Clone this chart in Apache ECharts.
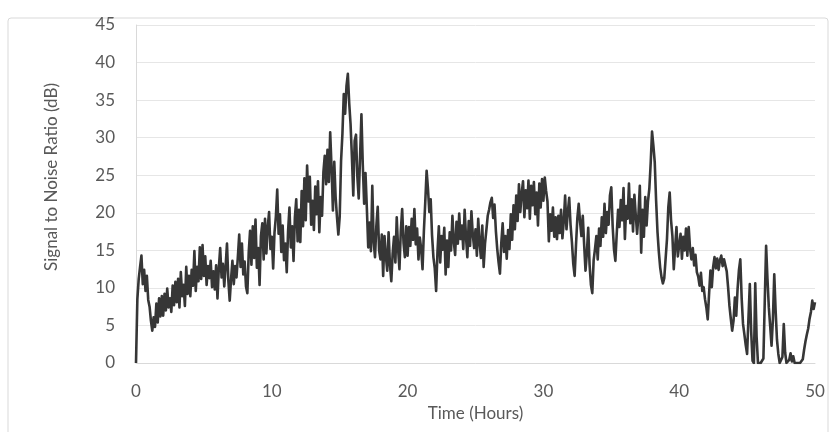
<!DOCTYPE html>
<html>
<head>
<meta charset="utf-8">
<script src="https://cdn.jsdelivr.net/npm/echarts@6/dist/echarts.min.js"></script>
<style>
  html, body { margin: 0; padding: 0; background: #ffffff; }
  #chart { width: 835px; height: 432px; }
</style>
</head>
<body>
<div id="chart"></div>
<script>
// SNR readings, one every 0.1 h, grouped by ten-hour block
const SAMPLE_STEP_HOURS = 0.1;

const snrHours0to10 = [
  0, 8.5, 11.2, 12.8, 14.3, 10.5, 12.4, 9.6, 11.6, 8.4,
  7.5, 5.6, 4.3, 6.1, 4.8, 7.9, 5.4, 8.6, 6.2, 8.9,
  6.3, 9.2, 7.0, 9.9, 7.4, 8.6, 6.8, 10.3, 7.7, 10.8,
  8.1, 11.2, 7.4, 12.1, 8.9, 10.4, 7.6, 12.8, 9.2, 11.6,
  8.9, 12.4, 10.3, 14.9, 9.6, 12.8, 10.9, 15.4, 11.2, 15.7,
  11.6, 14.2, 10.4, 12.9, 11.3, 13.6, 10.1, 12.2, 9.8, 13.0,
  8.6, 12.7, 15.3, 11.4, 13.2, 10.2, 12.9, 15.9, 11.0, 8.3,
  11.2, 13.6, 10.5, 12.9, 11.4, 14.1, 17.1, 12.8, 15.9, 11.8,
  13.5, 10.2, 9.3, 14.7, 17.6, 13.1, 18.2, 14.0, 19.1, 12.7,
  15.3, 10.4, 16.9, 18.6, 13.8, 19.2, 14.6, 18.1, 20.1, 15.2
];

const snrHours10to20 = [
  16.8, 12.6, 17.4, 19.5, 23.1, 17.2, 19.8, 14.8, 18.3, 13.7,
  15.9, 12.1, 17.6, 20.7, 15.4, 18.2, 13.6, 19.4, 21.8, 16.2,
  20.4, 16.1, 22.9, 18.2, 24.6, 19.0, 26.3, 21.5, 24.8, 18.4,
  21.6, 17.7, 23.5, 19.8, 24.2, 17.4, 22.1, 19.6, 25.4, 27.6,
  23.8, 28.4, 24.1, 30.7, 26.0, 20.3, 26.8, 22.1, 19.4, 17.1,
  19.5, 26.9, 30.5, 35.8, 33.2, 36.9, 38.5, 34.6, 31.8, 27.4,
  22.3, 29.6, 30.4, 24.8, 21.9, 27.5, 33.1, 26.4, 21.2, 25.3,
  20.6, 15.4, 18.7, 14.9, 23.6, 16.2, 14.1, 18.3, 20.8, 15.0,
  13.8, 17.1, 11.6, 16.9, 14.2, 12.3, 17.4, 13.1, 10.9, 14.6,
  16.8, 13.4, 19.4, 15.2, 12.5, 17.6, 20.5, 16.0, 14.1, 18.2
];

const snrHours20to30 = [
  14.3, 18.1, 15.6, 19.2, 16.4, 20.5, 15.8, 17.9, 13.8, 16.7,
  15.2, 12.5, 17.6, 21.4, 25.6, 23.2, 20.1, 21.8, 17.0, 14.1,
  12.6, 9.6, 14.8, 18.2, 13.4, 16.9, 15.1, 18.0, 11.8, 16.3,
  12.8, 17.4, 15.0, 19.6, 16.2, 14.4, 18.8, 15.9, 19.9, 16.5,
  18.3, 15.2, 20.4, 16.8, 14.1, 18.9, 15.6, 20.2, 17.1, 15.3,
  17.8, 14.3, 19.2, 16.0, 14.0, 18.3, 12.8, 15.9, 17.7, 19.6,
  20.4, 21.4, 22.0, 19.3, 21.1, 17.6, 15.2, 13.4, 11.9, 16.0,
  18.6, 14.8, 16.9, 13.9, 17.7, 15.2, 19.8, 16.4, 21.0, 17.8,
  22.3, 18.9, 23.8, 20.1, 22.6, 24.2, 19.4, 23.0, 20.6, 24.3,
  19.2, 23.6, 21.0, 24.1, 19.8, 22.7, 18.3, 23.9, 20.7, 24.5
];

const snrHours30to40 = [
  21.6, 24.7, 22.9, 21.5, 16.2, 19.8, 17.6, 20.7, 16.8, 19.4,
  16.5, 19.6, 17.3, 20.4, 16.6, 18.9, 22.3, 17.8, 20.1, 22.0,
  18.4, 16.1, 13.2, 11.6, 15.7, 19.3, 21.2, 18.8, 16.9, 19.6,
  15.8, 12.3, 14.6, 18.0, 13.1, 10.4, 9.3, 13.7, 15.2, 16.9,
  13.8, 17.9, 15.6, 19.4, 16.8, 21.2, 17.3, 20.1, 18.4, 22.3,
  23.4, 18.2, 15.1, 13.6, 17.2, 20.4, 18.1, 21.7, 19.0, 23.3,
  16.5, 20.9, 19.2, 23.9, 18.6, 21.8, 17.5, 22.4, 19.7, 17.2,
  19.8, 23.6, 14.7, 20.4, 16.8, 22.1, 18.3, 21.5, 23.2, 26.6,
  30.8, 28.9, 26.7, 21.6, 17.5, 14.8, 12.7, 11.4, 10.6, 11.3,
  13.9, 16.5, 20.8, 22.7, 19.0, 16.9, 12.5, 15.4, 18.1, 14.2
];

const snrHours40to50 = [
  14.1, 17.2, 13.9, 16.8, 15.0, 17.9, 14.3, 18.1, 15.2, 13.8,
  15.3, 13.0, 14.4, 12.1, 11.5, 10.3, 12.0, 9.6, 10.1, 8.5,
  7.4, 5.8, 9.2, 12.3, 10.1, 12.8, 14.1, 12.6, 13.9, 12.4,
  13.7, 14.3, 12.9, 13.8, 14.0, 12.2, 10.1, 7.6, 5.9, 4.3,
  5.6, 8.7, 6.3, 9.9, 12.4, 13.8, 8.6, 5.2, 3.8, 2.4,
  1.2, 6.0, 10.5, 4.2, 0.3, 0, 10.6, 3.5, 0, 0,
  0, 0, 0.6, 8.2, 15.6, 11.2, 7.4, 4.9, 2.3, 5.8,
  11.8, 7.0, 3.1, 1.2, 0, 0, 0.8, 5.2, 1.4, 0,
  0, 0.4, 1.3, 0.2, 0.9, 0, 0, 0, 0, 0,
  0, 0.5, 1.8, 2.9, 3.8, 4.6, 5.9, 6.8, 8.3, 7.2,
  8.1
];

// Axis ranges and tick spacing
const timeTicks = [0, 10, 20, 30, 40, 50];
const snrTicks = [0, 5, 10, 15, 20, 25, 30, 35, 40, 45];

const snrValues = [].concat(snrHours0to10, snrHours10to20, snrHours20to30, snrHours30to40, snrHours40to50);
const seriesData = snrValues.map((v, i) => [+(i * SAMPLE_STEP_HOURS).toFixed(1), v]);

const FONT = 'Lato, "Open Sans", sans-serif';
const TEXT_GRAY = '#595959';

const chart = echarts.init(document.getElementById('chart'), null, { renderer: 'canvas' });

chart.setOption({
  backgroundColor: '#ffffff',
  animation: false,
  grid: { left: 136, right: 20, top: 25, bottom: 69, containLabel: false },
  xAxis: {
    type: 'value',
    min: timeTicks[0],
    max: timeTicks[timeTicks.length - 1],
    interval: timeTicks[1] - timeTicks[0],
    name: 'Time (Hours)',
    nameLocation: 'middle',
    nameGap: 41,
    nameTextStyle: { color: TEXT_GRAY, fontFamily: FONT, fontSize: 17 },
    axisLine: { show: true, lineStyle: { color: '#d9d9d9', width: 1 } },
    axisTick: { show: false },
    axisLabel: { color: TEXT_GRAY, fontFamily: FONT, fontSize: 17, margin: 20 },
    splitLine: { show: false }
  },
  yAxis: {
    type: 'value',
    min: snrTicks[0],
    max: snrTicks[snrTicks.length - 1],
    interval: snrTicks[1] - snrTicks[0],
    axisLine: { show: true, lineStyle: { color: '#d9d9d9', width: 1 } },
    axisTick: { show: false },
    axisLabel: { color: TEXT_GRAY, fontFamily: FONT, fontSize: 17, margin: 21 },
    splitLine: { show: true, lineStyle: { color: '#e6e6e6', width: 1 } }
  },
  graphic: [
    {
      type: 'rect',
      shape: { x: 8, y: 18, width: 820, height: 430, r: 3 },
      style: { fill: 'none', stroke: '#d9d9d9', lineWidth: 1 },
      silent: true
    },
    {
      type: 'text',
      x: 52,
      y: 177,
      rotation: Math.PI / 2,
      style: {
        text: 'Signal to Noise Ratio (dB)',
        fill: TEXT_GRAY,
        font: '17px ' + FONT,
        align: 'center',
        verticalAlign: 'middle'
      },
      silent: true
    }
  ],
  series: [
    {
      type: 'line',
      data: seriesData,
      showSymbol: false,
      symbol: 'none',
      lineStyle: { color: '#363636', width: 2.6, join: 'round' },
      silent: true
    }
  ]
});
</script>
</body>
</html>
